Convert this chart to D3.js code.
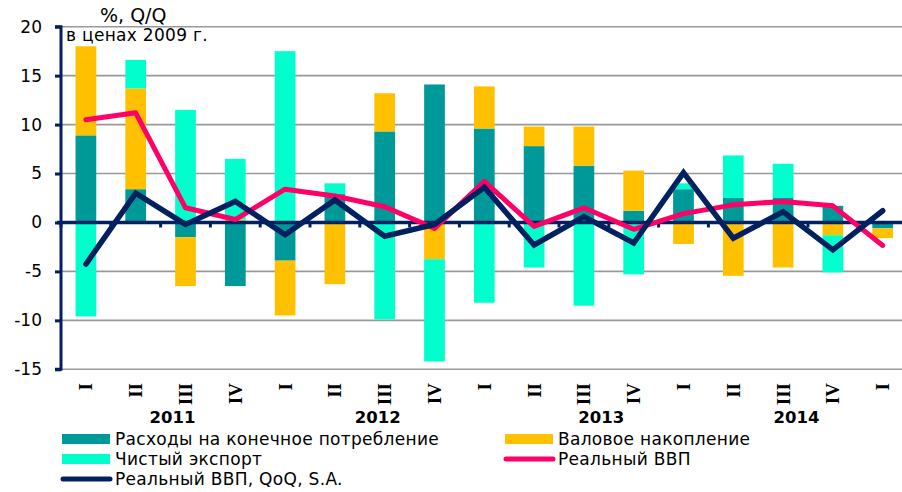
<!DOCTYPE html>
<html>
<head>
<meta charset="utf-8">
<script src="https://cdn.jsdelivr.net/npm/d3@7/dist/d3.min.js"></script>
<style>
  html, body { margin: 0; padding: 0; background: #ffffff; }
  svg { display: block; }
  text { font-family: "DejaVu Sans", Verdana, sans-serif; fill: #000; }
</style>
</head>
<body>
<svg id="chart" width="902" height="492"></svg>
<script>
// ---------------- DATA ----------------
const quarters = ["I","II","III","IV","I","II","III","IV","I","II","III","IV","I","II","III","IV","I"];
const years = ["2011","2012","2013","2014"];
const yTicks = [-15, -10, -5, 0, 5, 10, 15, 20];

const consumption  = [8.9, 3.4, -1.5, -6.5, -3.9, 2.9, 9.3, 14.1, 9.6, 7.8, 5.8, 1.2, 3.4, 2.5, 2.5, 1.7, -0.6];
const accumulation = [9.1, 10.3, -5.0, 0.3, -5.6, -6.3, 3.9, -3.75, 4.3, 2.0, 4.0, 4.1, -2.2, -5.45, -4.6, -1.3, -1.0];
const netExport    = [-9.6, 2.9, 11.5, 6.2, 17.5, 1.1, -9.9, -10.45, -8.2, -4.6, -8.5, -5.3, 0.6, 4.35, 3.5, -3.8, 0];
const realGDP      = [10.5, 11.2, 1.5, 0.3, 3.4, 2.7, 1.6, -0.6, 4.2, -0.4, 1.5, -0.7, 0.9, 1.8, 2.15, 1.7, -2.35];
const realGDPsa    = [-4.25, 3.0, -0.2, 2.15, -1.25, 2.3, -1.4, -0.2, 3.6, -2.3, 0.6, -2.1, 5.1, -1.6, 1.1, -2.8, 1.2];

const seriesNames = ["Расходы на конечное потребление", "Валовое накопление", "Чистый экспорт"];
const lineNames = ["Реальный ВВП", "Реальный ВВП, QoQ, S.A."];
const unitLabel = "%, Q/Q";
const priceLabel = "в ценах 2009 г.";

// ---------------- LAYOUT ----------------
const colors = { cons: "#009999", acc: "#FFC000", ne: "#00FFCC", gdp: "#FF0066", sa: "#002060", grid: "#999999" };
const yearPos = [2.24, 6.36, 10.85, 14.77]; // label centres in category units

const svg = d3.select("#chart");
const ids = quarters.map((q, i) => i);

const x = d3.scaleBand().domain(ids).range([61, 907.6]).paddingInner(0.584).paddingOuter(0.292);
const xLin = d3.scaleLinear().domain([0, quarters.length]).range([61, 907.6]);
const y = d3.scaleLinear().domain([-15, 20]).range([369.3, 26.7]);

// gridlines
svg.append("g").selectAll("line").data(yTicks.filter(t => t !== 0)).join("line")
  .attr("x1", 61).attr("x2", 902)
  .attr("y1", d => y(d)).attr("y2", d => y(d))
  .attr("stroke", colors.grid).attr("stroke-width", 1.6);

// stacked bars
const rows = ids.map(i => ({ i, cons: consumption[i], acc: accumulation[i], ne: netExport[i] }));
const stack = d3.stack().keys(["cons", "acc", "ne"]).offset(d3.stackOffsetDiverging);
const stacked = stack(rows);
svg.append("g").selectAll("g").data(stacked).join("g")
  .attr("fill", d => colors[d.key])
  .selectAll("rect").data(d => d).join("rect")
  .attr("x", d => x(d.data.i))
  .attr("width", x.bandwidth())
  .attr("y", d => y(Math.max(d[0], d[1])))
  .attr("height", d => Math.abs(y(d[0]) - y(d[1])));

// y axis
const yAxis = d3.axisLeft(y).tickValues(yTicks).tickSize(6).tickFormat(d => String(d));
const gy = svg.append("g").attr("transform", "translate(61,0)").call(yAxis);
gy.select(".domain").attr("stroke", colors.sa).attr("stroke-width", 3).attr("d", `M-6,${y(20)}H0V${y(-15)}H-6`);
gy.selectAll(".tick line").attr("stroke", colors.sa).attr("stroke-width", 3);
gy.selectAll(".tick text").attr("x", -19).attr("font-size", 17)
  .style("font-family", "DejaVu Sans, sans-serif").attr("fill", "#000");

// x axis at zero
const gx = svg.append("g");
gx.append("line").attr("x1", 57).attr("x2", 902).attr("y1", y(0)).attr("y2", y(0))
  .attr("stroke", colors.sa).attr("stroke-width", 3.5);
gx.selectAll("line.tk").data(d3.range(0, quarters.length + 1)).join("line").attr("class", "tk")
  .attr("x1", d => xLin(d)).attr("x2", d => xLin(d))
  .attr("y1", y(0)).attr("y2", y(0) + 5)
  .attr("stroke", colors.sa).attr("stroke-width", 3);

// lines
const line = d3.line().x((d, i) => x(i) + x.bandwidth() / 2).y(d => y(d));
svg.append("path").datum(realGDP).attr("d", line).attr("fill", "none")
  .attr("stroke", colors.gdp).attr("stroke-width", 5).attr("stroke-linejoin", "round").attr("stroke-linecap", "round");
svg.append("path").datum(realGDPsa).attr("d", line).attr("fill", "none")
  .attr("stroke", colors.sa).attr("stroke-width", 5.5).attr("stroke-linejoin", "miter").attr("stroke-linecap", "round");

// category labels (rotated)
svg.append("g").selectAll("text").data(quarters).join("text")
  .attr("transform", (d, i) => `translate(${x(i) + x.bandwidth() / 2},383) rotate(-90)`)
  .attr("text-anchor", "end").attr("dy", "0.34em")
  .style("font-family", "'Liberation Serif', 'Times New Roman', serif")
  .attr("font-size", 19).attr("font-weight", "bold")
  .text(d => d);

// year labels
svg.append("g").selectAll("text").data(years).join("text")
  .attr("x", (d, i) => xLin(yearPos[i])).attr("y", 423)
  .attr("text-anchor", "middle").attr("font-weight", "bold").attr("font-size", 16.5)
  .text(d => d);

// unit labels
svg.append("text").attr("x", 100).attr("y", 22).attr("font-size", 19).text(unitLabel);
svg.append("text").attr("x", 66).attr("y", 41).attr("font-size", 17).attr("letter-spacing", 0.3).text(priceLabel);

// legend
const leg = svg.append("g").attr("font-size", 17).attr("letter-spacing", 0.3);
const legItems = [
  { type: "rect", color: colors.cons, label: seriesNames[0], col: 0, row: 0 },
  { type: "rect", color: colors.acc,  label: seriesNames[1], col: 1, row: 0 },
  { type: "rect", color: colors.ne,   label: seriesNames[2], col: 0, row: 1 },
  { type: "line", color: colors.gdp,  label: lineNames[0],   col: 1, row: 1 },
  { type: "line", color: colors.sa,   label: lineNames[1],   col: 0, row: 2 }
];
const colX = [62, 505];
legItems.forEach(it => {
  const cy = 439 + it.row * 20;
  const x0 = colX[it.col];
  if (it.type === "rect") {
    leg.append("rect").attr("x", x0).attr("y", cy - 5).attr("width", 48).attr("height", 10).attr("fill", it.color);
  } else {
    leg.append("line").attr("x1", x0 + 1).attr("x2", x0 + 48).attr("y1", cy).attr("y2", cy)
      .attr("stroke", it.color).attr("stroke-width", 5).attr("stroke-linecap", "round");
  }
  leg.append("text").attr("x", x0 + 53).attr("y", cy + 6).text(it.label);
});
</script>
</body>
</html>
